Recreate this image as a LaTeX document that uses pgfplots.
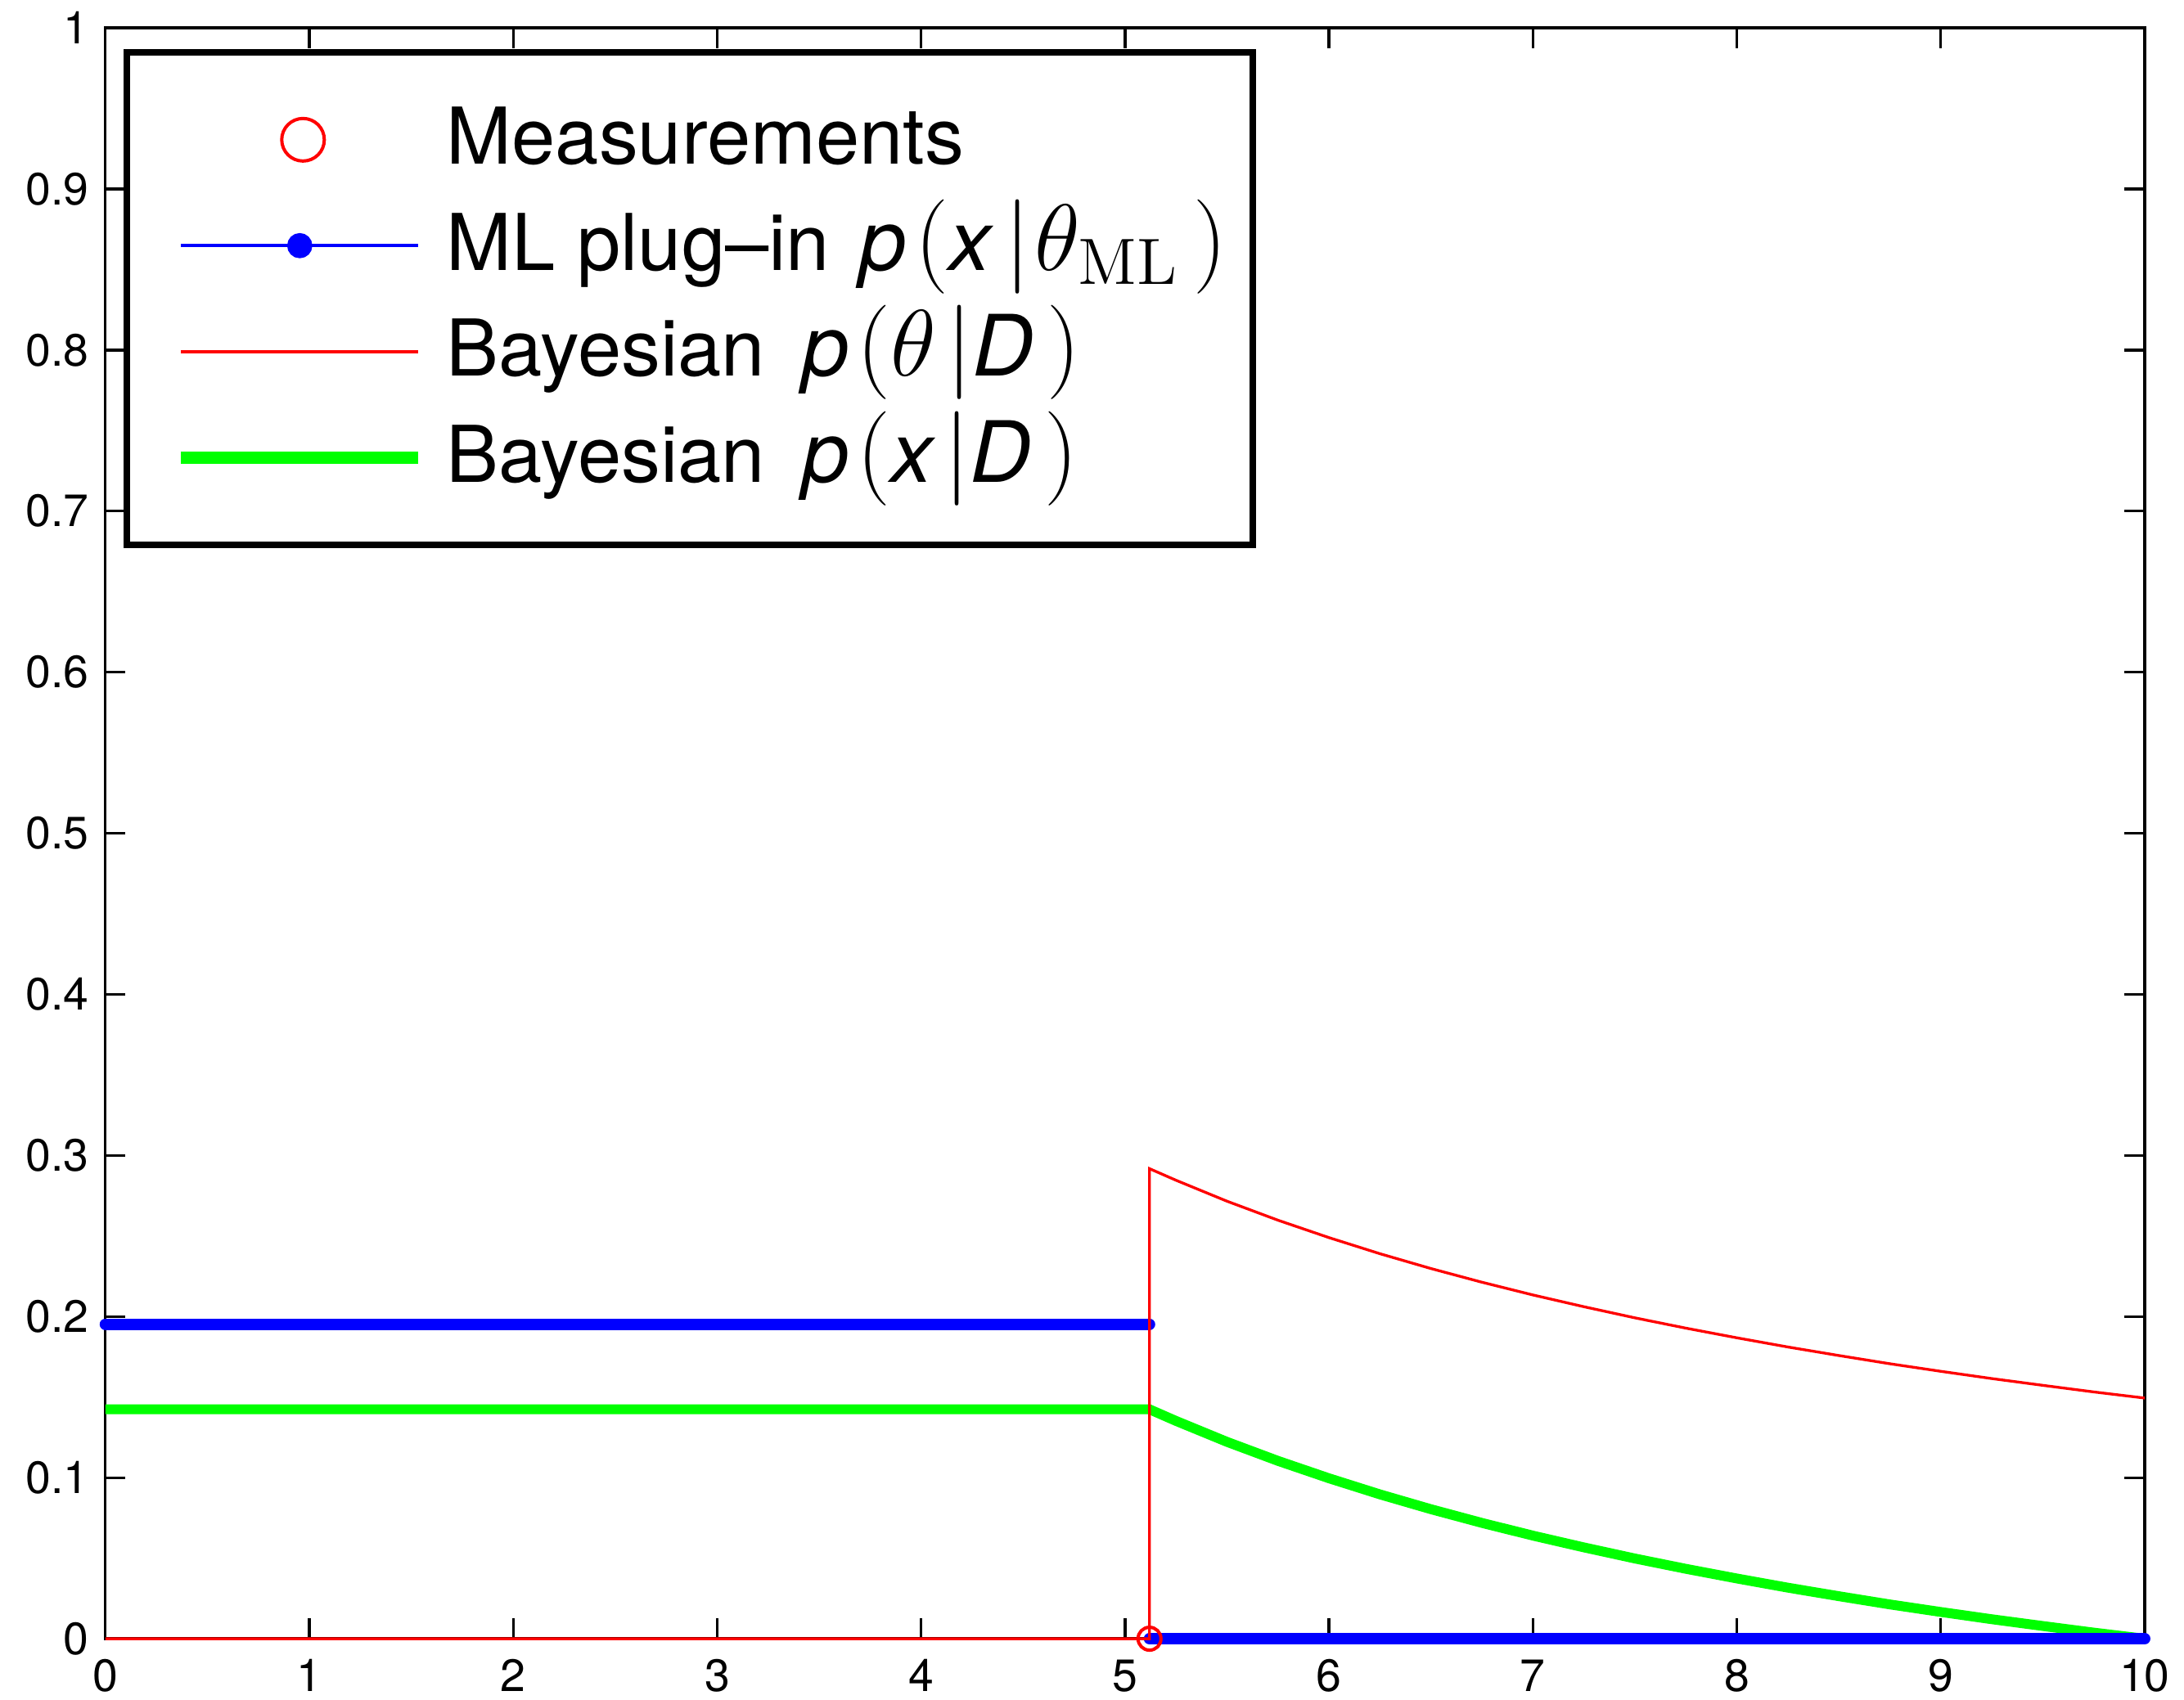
\documentclass[border=0pt]{standalone}
\usepackage{amsmath}
\usepackage[no-math]{fontspec}
\setmainfont{TeX Gyre Heros}
\usepackage{pgfplots}
\pgfplotsset{compat=1.18}
\definecolor{mblue}{rgb}{0,0,1}
\definecolor{mgreen}{rgb}{0,1,0}
\definecolor{mred}{rgb}{1,0,0}
\newcommand\mi[1]{\text{\fontsize{15.5}{18}\selectfont\itshape #1}}
\newcommand\M[1]{{\fontsize{18}{20}\selectfont$#1$}}
\begin{document}
\begin{tikzpicture}
\path[use as bounding box] (-19.3pt,-11.1pt) rectangle (380.7pt,300.2pt);
\begin{axis}[
  scale only axis, width=373.5pt, height=295.1pt,
  xmin=0, xmax=10, ymin=0, ymax=1,
  xtick={0,1,2,3,4,5,6,7,8,9,10},
  ytick={0,0.1,0.2,0.3,0.4,0.5,0.6,0.7,0.8,0.9,1},
  yticklabels={0,0.1,0.2,0.3,0.4,0.5,0.6,0.7,0.8,0.9,1},
  tick align=inside, xtick pos=both, ytick pos=both,
  major tick length=3.7pt,
  axis line style={line width=0.5pt},
  every tick/.style={black, line width=0.5pt},
  tick label style={font=\fontsize{8.3}{10}\selectfont},
  /pgf/number format/assume math mode=true,
  xticklabel style={yshift=-0.3pt},
  yticklabel style={xshift=0.5pt},
  clip=false,
  legend style={at={(0,1)}, anchor=north west, xshift=3.4pt, yshift=-3.9pt,
    draw=black, line width=1.2pt, font=\fontsize{14.35}{19.4}\selectfont,
    inner xsep=4pt, inner ysep=6.3pt, row sep=0pt,
    nodes={inner sep=0.7pt, text height=13.5pt, text depth=4.5pt}},
  legend cell align=left,
]
\addlegendimage{legend image code/.code={\path[draw=none] (0pt,0pt) -- (53.8pt,0pt);\draw[mred, line width=0.6pt] (28.2pt,0pt) circle (3.9pt);}}
\addlegendentry{Measurements}
\addlegendimage{legend image code/.code={\path[draw=none] (0pt,0pt) -- (53.8pt,0pt);\draw[mblue, line width=0.6pt] (5.8pt,0pt) -- (49.3pt,0pt); \fill[mblue] (27.6pt,0pt) circle (1.7pt);}}
\addlegendentry{ML plug–in\ \kern1.5pt\M{\mi{p}\kern1.5pt(\mi{x}\kern2.5pt|\kern0.8pt\theta_{\mathrm{ML}}\kern2.5pt)}}
\addlegendimage{legend image code/.code={\path[draw=none] (0pt,0pt) -- (53.8pt,0pt);\draw[mred, line width=0.6pt] (5.8pt,0pt) -- (49.3pt,0pt);}}
\addlegendentry{Bayesian\ \kern2.8pt\M{\mi{p}\kern1.5pt(\theta\kern1.8pt|\mi{D}\kern2.5pt)}}
\addlegendimage{legend image code/.code={\path[draw=none] (0pt,0pt) -- (53.8pt,0pt);\draw[mgreen, line width=2.2pt] (5.8pt,0pt) -- (49.3pt,0pt);}}
\addlegendentry{Bayesian\ \kern2.8pt\M{\mi{p}\kern1.5pt(\mi{x}\kern2pt|\mi{D}\kern2.5pt)}}

% Bayesian p(x|D)
\addplot[mgreen, line width=1.8pt, forget plot] coordinates {
(0,0.1424) (5.12,0.1424) (5.25,0.1352) (5.5,0.1222) (5.75,0.1104) (6,0.0996)
(6.25,0.0896) (6.5,0.0804) (6.75,0.0719) (7,0.0640) (7.25,0.0567) (7.5,0.0498)
(7.75,0.0434) (8,0.0374) (8.25,0.0317) (8.5,0.0264) (8.75,0.0213) (9,0.0166)
(9.25,0.0121) (9.5,0.0079) (9.75,0.0038) (10,0)};
% ML plug-in
\addplot[mblue, line width=2.1pt, line cap=round, forget plot] coordinates {(0,0.1953) (5.12,0.1953)};
\addplot[mblue, line width=2.1pt, line cap=round, forget plot] coordinates {(5.12,0) (10,0)};
% Bayesian p(theta|D)
\addplot[mred, line width=0.5pt, forget plot] coordinates {
(0,0) (5.12,0) (5.12,0.2918) (5.25,0.2846) (5.5,0.2716) (5.75,0.2598) (6,0.2490)
(6.25,0.2390) (6.5,0.2298) (6.75,0.2213) (7,0.2134) (7.25,0.2061) (7.5,0.1992)
(7.75,0.1928) (8,0.1868) (8.25,0.1811) (8.5,0.1758) (8.75,0.1707) (9,0.1660)
(9.25,0.1615) (9.5,0.1573) (9.75,0.1532) (10,0.1494)};
% Measurements
\addplot[only marks, mark=o, mark size=2.1pt, mred, mark options={line width=0.6pt}, forget plot] coordinates {(5.12,0)};
\end{axis}
\end{tikzpicture}
\end{document}
